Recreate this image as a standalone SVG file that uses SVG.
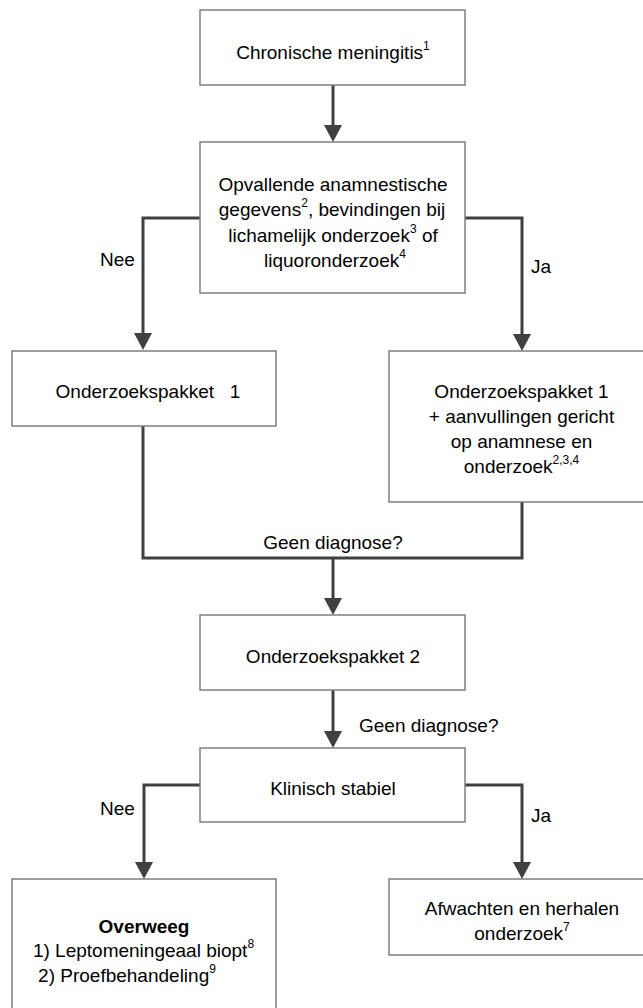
<svg xmlns="http://www.w3.org/2000/svg" width="643" height="1008" viewBox="0 0 643 1008">
<style>
.box{fill:#fff;stroke:#7f7f7f;stroke-width:1.5}
.t{font-family:"Liberation Sans",Arial,sans-serif;font-size:19px;fill:#000}
.c{text-anchor:middle}
.b{font-weight:bold}
.sup{font-size:12px}
.conn{fill:none;stroke:#404040;stroke-width:3}
</style>
<defs>
<marker id="ah" viewBox="0 0 17 18" refX="9" refY="9" markerWidth="17" markerHeight="18" markerUnits="userSpaceOnUse" orient="auto">
<path d="M0,0 L17,9 L0,18 z" fill="#404040"/>
</marker>
</defs>
<rect width="643" height="1008" fill="#fff"/>
<g id="connectors">
<path class="conn" d="M333,85 V134" marker-end="url(#ah)"/>
<path class="conn" d="M200,218 H143 V342" marker-end="url(#ah)"/>
<path class="conn" d="M465,218 H522 V343" marker-end="url(#ah)"/>
<path class="conn" d="M143,426 V558 H522 V502"/>
<path class="conn" d="M333,558 V607" marker-end="url(#ah)"/>
<path class="conn" d="M333,690 V740" marker-end="url(#ah)"/>
<path class="conn" d="M200,785 H144 V871" marker-end="url(#ah)"/>
<path class="conn" d="M465,785 H522 V871" marker-end="url(#ah)"/>
<text class="t" x="100" y="266">Nee</text>
<text class="t" x="531" y="273">Ja</text>
<text class="t c" x="333" y="549">Geen diagnose?</text>
<text class="t" x="359" y="732">Geen diagnose?</text>
<text class="t" x="100" y="815">Nee</text>
<text class="t" x="531" y="822">Ja</text>
</g>
<g id="n1">
<rect class="box" x="200" y="10" width="265" height="75"/>
<text class="t c" x="333" y="59">Chronische meningitis<tspan class="sup" dy="-9">1</tspan></text>
</g>
<g id="n2">
<rect class="box" x="200" y="142" width="265" height="151"/>
<text class="t c" x="333" y="191">Opvallende anamnestische</text>
<text class="t c" x="332" y="216">gegevens<tspan class="sup" dy="-9">2</tspan><tspan dy="9">, bevindingen bij</tspan></text>
<text class="t c" x="333" y="241.5">lichamelijk onderzoek<tspan class="sup" dy="-9">3</tspan><tspan dy="9"> of</tspan></text>
<text class="t c" x="335" y="267">liquoronderzoek<tspan class="sup" dy="-9">4</tspan></text>
</g>
<g id="n3">
<rect class="box" x="12" y="351" width="264" height="75"/>
<text class="t c" x="148" y="398" xml:space="preserve">Onderzoekspakket   1</text>
</g>
<g id="n4">
<rect class="box" x="389" y="351" width="265" height="151"/>
<text class="t c" x="521.5" y="398">Onderzoekspakket 1</text>
<text class="t c" x="521.5" y="423">+ aanvullingen gericht</text>
<text class="t c" x="521.5" y="448">op anamnese en</text>
<text class="t c" x="521.5" y="473">onderzoek<tspan class="sup" dy="-9">2,3,4</tspan></text>
</g>
<g id="n5">
<rect class="box" x="200" y="615" width="265" height="75"/>
<text class="t c" x="333" y="663">Onderzoekspakket 2</text>
</g>
<g id="n6">
<rect class="box" x="200" y="748" width="265" height="74"/>
<text class="t c" x="333" y="795">Klinisch stabiel</text>
</g>
<g id="n7">
<rect class="box" x="12" y="879" width="264" height="140"/>
<text class="t c b" x="144" y="933">Overweeg</text>
<text class="t c" x="143.5" y="957">1) Leptomeningeaal biopt<tspan class="sup" dy="-9">8</tspan></text>
<text class="t c" x="127" y="982">2) Proefbehandeling<tspan class="sup" dy="-9">9</tspan></text>
</g>
<g id="n8">
<rect class="box" x="389" y="879" width="265" height="76"/>
<text class="t c" x="522" y="915">Afwachten en herhalen</text>
<text class="t c" x="522" y="940">onderzoek<tspan class="sup" dy="-9">7</tspan></text>
</g>
</svg>
